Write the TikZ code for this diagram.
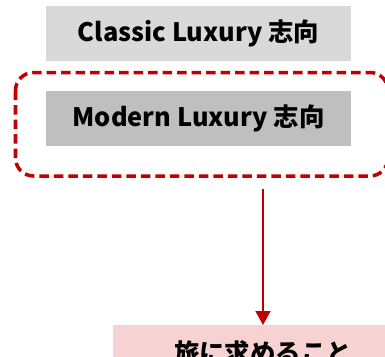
\documentclass[tikz,border=0pt]{standalone}
\usepackage{fontspec}
\setmainfont{Noto Sans CJK JP}
\usetikzlibrary{arrows.meta}

\definecolor{lightgray}{HTML}{D9D9D9}
\definecolor{midgray}{HTML}{BFBFBF}
\definecolor{darkred}{HTML}{C00000}
\definecolor{palepink}{HTML}{F6D2D2}

\begin{document}
\begin{tikzpicture}[x=1bp,y=-1bp,
    labelbox/.style={minimum width=305bp,minimum height=55bp,inner sep=0pt,
      font=\fontsize{25.5}{28}\selectfont\bfseries}]
      % Canvas (pixel-sized units, y pointing down)
      \useasboundingbox (0,0) rectangle (385,357);
      \clip (0,0) rectangle (385,357);

      % Two orientation boxes
      \node[labelbox,fill=lightgray] (classic) at (198.5,33.5) {Classic Luxury 志向};
      \node[labelbox,fill=midgray]   (modern)  at (198.5,118.5) {Modern Luxury 志向};

      % Dashed highlight round the modern box
      \draw[darkred,line width=3.5bp,dash pattern=on 9.5bp off 5bp,rounded corners=18bp]
      (15.5,72.5) rectangle (388,176);

      % Result box (runs off the page edge)
      \node[labelbox,minimum width=300bp,fill=palepink,anchor=north] (goal) at (263,325)
      {旅に求めること};

      % Arrow down to the result
      \coordinate (start) at (263,189);
      \draw[darkred,line width=1.5bp,-{Triangle[length=14bp,width=15bp]}] (start) -- (goal.north);
\end{tikzpicture}
\end{document}
